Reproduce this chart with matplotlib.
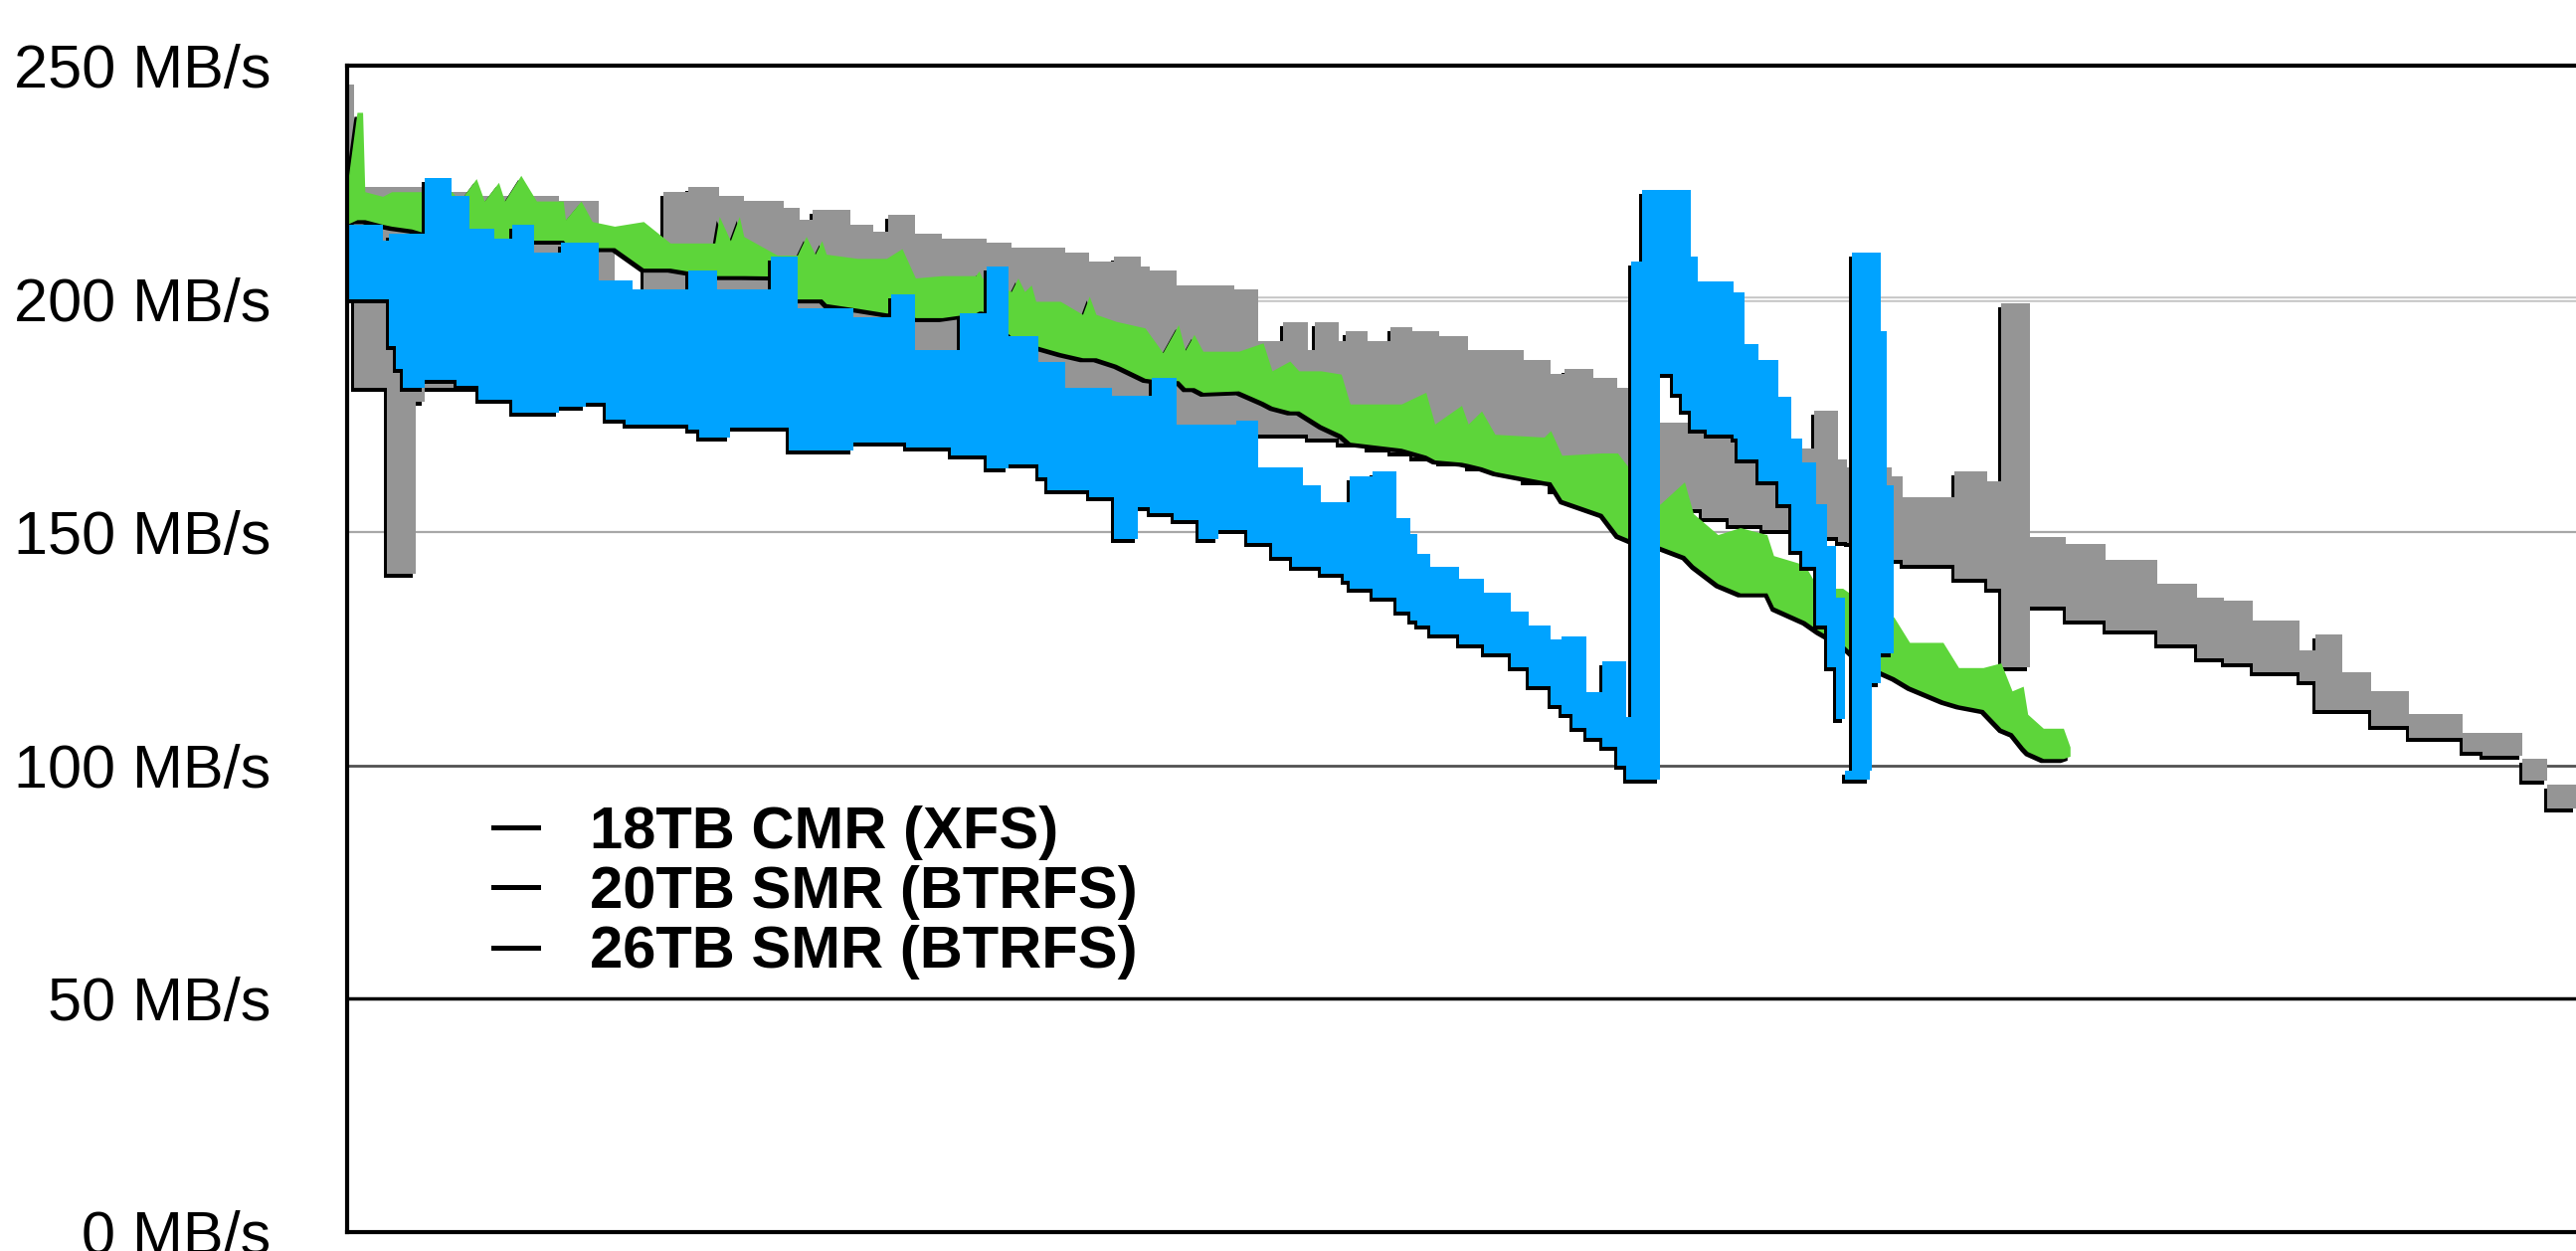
import numpy as np
import matplotlib
matplotlib.use('Agg')
import matplotlib.pyplot as plt
import matplotlib.transforms as mtransforms
from matplotlib.lines import Line2D

# position across the disk (percent) and the min / max throughput band (MB/s)
# 18TB CMR and 26TB SMR are stepped (value holds until the next x)
cmr18_x = [0.0, 0.3, 1.8, 3.1, 3.5, 5.9, 9.5, 11.3, 12.0, 13.3, 14.2, 15.3, 16.7, 17.8,
           19.6, 20.3, 20.9, 22.6, 23.6, 24.3, 25.5, 26.7, 28.7, 29.8, 32.2, 33.3, 34.4,
           35.6, 36.0, 37.2, 39.8, 40.9, 42.0, 43.1, 43.4, 44.5, 44.8, 45.8, 46.8, 47.8,
           49.0, 50.3, 51.5, 52.8, 54.0, 54.6, 55.9, 57.0, 57.8, 58.9, 60.8, 62.0, 63.5,
           65.3, 65.8, 66.9, 67.3, 69.3, 69.8, 72.1, 73.6, 74.2, 75.5, 77.1, 78.9, 81.2,
           83.0, 84.2, 85.5, 87.6, 88.3, 89.5, 90.8, 92.5, 94.9, 95.8, 97.6, 98.7, 100.0]
cmr18_hi = [246, 224, 224, 224, 223, 222, 221, 214, 200, 208, 223, 224, 222, 221,
            219.5, 217, 219, 216, 214.5, 218, 214, 213, 212, 211, 210, 208, 209,
            207, 206, 203, 202, 191, 195, 189, 195, 191, 193, 191, 194, 193,
            192, 189, 189, 187, 184, 185, 183, 181, 178, 173.6, 173, 170, 169,
            168, 176, 165.6, 164, 162, 157.6, 163, 161, 199, 149, 147.5, 144, 139,
            136, 135.4, 131, 124.7, 128, 120, 116, 111, 107, 107, 101.5, 96, 95.7]
cmr18_lo = [200, 181, 141, 178, 181, 184, 186, 190, 190, 190, 190, 188, 186, 185,
            184, 183, 182, 181, 180, 179, 178, 177, 176, 176, 175, 175, 174,
            174, 173, 173, 172, 171, 171, 170, 170, 169, 169, 168, 167, 166,
            165, 164, 163, 161, 159, 158, 157, 156, 155, 155, 153, 151.5, 150.5,
            149.5, 149, 148, 147.8, 144, 143, 140, 138, 121, 134, 131, 129, 126,
            123, 122, 120, 118, 112, 112, 108.5, 106, 103, 102, 96.8, 90.8, 90]

smr26_x = [0.0, 1.6, 1.9, 2.2, 2.5, 3.5, 4.7, 4.9, 5.5, 5.9, 6.6, 7.4, 8.4, 9.5, 9.6,
           10.7, 11.3, 11.6, 12.5, 12.8, 15.3, 15.8, 16.6, 17.2, 19.0, 19.8, 20.2, 22.7,
           24.4, 25.1, 25.5, 27.1, 27.5, 28.7, 29.7, 31.0, 31.4, 32.2, 33.3, 34.3, 34.4,
           35.5, 36.0, 36.1, 37.1, 37.2, 38.2, 39.1, 39.9, 40.4, 40.9, 41.5, 42.4, 42.9,
           43.7, 44.7, 45.0, 46.0, 47.1, 47.7, 48.0, 48.6, 49.9, 51.0, 52.2, 53.0, 54.0,
           54.5, 55.0, 55.6, 56.3, 57.0, 57.4, 57.6, 58.1, 58.9, 59.5, 59.9, 60.3, 60.6,
           61.0, 62.2, 62.4, 62.7, 63.3, 64.2, 64.8, 65.3, 65.9, 66.4, 66.8, 67.2, 67.5,
           68.3, 68.4, 68.8, 69.1, 69.4]
smr26_hi = [216, 212.6, 214, 214, 214, 226, 222, 222, 215, 215, 213, 216, 210, 210, 212,
            212, 204, 204, 204, 202, 206, 206, 202, 202, 209, 209, 198, 196,
            201, 201, 189, 189, 197, 207, 192, 186.4, 186.4, 181, 181, 179.3, 179.3,
            179.3, 179.3, 183, 183, 173, 173, 173, 174, 174, 164, 164, 164, 160,
            156.5, 156.5, 162, 163, 153, 149.7, 145.4, 142.6, 140, 137, 133, 130, 127,
            127.7, 127.7, 115.8, 122.4, 122.4, 110.4, 208, 223.3, 223.3, 223.3, 223.3, 209, 203.8,
            203.8, 201.5, 201.5, 190.4, 187, 179, 170, 165, 156, 147, 136, 99, 210,
            210, 210, 193, 160, 124]
smr26_lo = [200, 200, 190, 185, 181, 182.7, 182.7, 181.4, 181.4, 178.5, 178.5, 175.7, 175.7, 176.8, 176.8,
            177.8, 177.8, 174.2, 173.1, 173.1, 172, 170.4, 170.4, 172.5, 172.5, 167.6, 167.6, 169.3,
            169.3, 168.2, 168.2, 166.5, 166.5, 163.6, 164.6, 161.8, 159, 159, 157.6, 157.6, 148.6,
            155.4, 154, 154, 152.6, 152.6, 148.6, 150.5, 150.5, 147.6, 147.6, 144.8, 142.6, 142.6,
            141, 139.5, 138, 136, 133, 131, 130, 128, 126, 124, 121, 117, 113,
            111, 108, 106, 104, 100, 97, 97, 97, 184, 179.7, 176, 172, 172,
            171, 170, 165.6, 165.6, 161, 156, 146, 142.5, 130, 121, 110, 97, 97,
            99, 117.6, 124, 124, 124]

# 20TB SMR is jagged, drawn point to point
smr20_x = [0.0, 0.45, 0.7, 0.8, 1.6, 2.0, 2.9, 3.6, 4.7, 5.06, 5.8, 6.16, 6.8, 7.07, 7.8,
           8.5, 9.7, 9.8, 10.5, 11.0, 12.0, 13.3, 14.5, 16.5, 16.7, 17.2, 17.6, 17.8, 19.3,
           20.2, 20.6, 21.0, 21.3, 21.5, 22.9, 24.2, 24.9, 25.5, 26.7, 28.2, 28.35, 28.5,
           29.8, 30.1, 30.4, 30.7, 30.9, 32.0, 33.0, 33.3, 33.6, 34.5, 35.8, 36.6, 37.3,
           37.6, 38.0, 38.4, 40.0, 41.1, 41.5, 42.3, 42.7, 43.7, 44.6, 45.0, 47.3, 48.4,
           48.8, 50.0, 50.3, 50.9, 51.5, 53.7, 54.0, 54.5, 56.3, 57.0, 57.8, 58.9, 60.0,
           60.4, 61.5, 62.5, 63.7, 64.0, 65.4, 66.0, 67.1, 68.0, 69.4, 70.1, 71.6, 72.3,
           73.4, 74.2, 74.7, 75.2, 75.4, 76.1, 77.0, 77.3]
smr20_hi = [224, 240, 240, 223, 222, 223, 223, 223, 223, 221, 225.8, 221, 225, 221, 226.5,
            221, 221, 217, 221, 216.6, 215.6, 216.6, 212, 212, 217.7, 212.5, 217.7, 213.4, 209.4,
            209.4, 213.4, 209.6, 212.5, 209.6, 208.7, 208.7, 210.8, 204.5, 205, 205, 206, 204.5,
            201.6, 204.5, 201.6, 203, 199.5, 199.5, 196.7, 200.6, 196.7, 195.2, 193.8, 188.5, 194.5,
            189, 192.4, 188.8, 188.8, 190.6, 184.6, 186.7, 184.6, 184.6, 183.9, 177.5, 177.5, 180,
            173.2, 177.2, 173.2, 176, 171, 170.4, 171.8, 166.5, 167, 167, 162, 156, 160.8,
            154, 149.5, 151, 149.5, 145, 143, 138, 138, 135, 131.8, 126.4, 126.4, 121,
            121, 122, 116, 117, 111, 108, 108, 104]
smr20_lo = [216, 217, 217, 217, 216, 215.6, 215, 214, 214, 213.5, 213.5, 213, 213, 213, 212.6,
            212.6, 212.6, 212, 211.5, 211, 211, 206.6, 206.6, 205, 205, 205, 205, 205, 204.9,
            200, 200, 200, 200, 199, 198, 197, 197, 196, 196, 197, 197.4, 197.4,
            192, 192, 191.7, 191.7, 190, 188.5, 187.4, 187.4, 187.4, 186, 183, 182.5, 182.5,
            181, 181, 180, 180.3, 178, 177, 176, 176, 173, 171, 169.3, 168, 166.5,
            165.5, 165, 164.7, 164, 163, 161, 160.8, 157, 154, 149.6, 148, 147, 145,
            143, 139, 137, 137, 134, 131, 129, 126, 122, 119, 117, 114, 113,
            112, 108, 107, 104, 103, 101.5, 101.5, 102]

labels = ['18TB CMR (XFS)', '20TB SMR (BTRFS)', '26TB SMR (BTRFS)']
colors = ['#959595', '#5dd53a', '#00a3ff']
yticks = [0, 50, 100, 150, 200, 250]
ytick_labels = ['%d MB/s' % v for v in yticks]

plt.rcParams['font.family'] = ['Liberation Sans', 'DejaVu Sans']

fig = plt.figure(figsize=(25.9, 12.58), dpi=100)
ax = fig.add_axes([0.1347, 0.0151, 0.8653, 0.9324])

# horizontal reference lines
ax.axhline(200, color='#c4c4c4', lw=4, zorder=1)
ax.axhline(200, color='white', lw=1.2, zorder=1)
ax.axhline(150, color='#a8a8a8', lw=1.6, zorder=1)
ax.axhline(100, color='#505050', lw=2, zorder=1)
ax.axhline(50, color='black', lw=2.5, zorder=1)

# thin dark drop shadow down and to the left of every band
shadow = mtransforms.offset_copy(ax.transData, fig=fig, x=-3, y=-4, units='dots')

series = [(cmr18_x, cmr18_hi, cmr18_lo, 'post'),
          (smr20_x, smr20_hi, smr20_lo, None),
          (smr26_x, smr26_hi, smr26_lo, 'post')]
for i, (x, hi, lo, step) in enumerate(series):
    ax.fill_between(x, lo, hi, step=step, color='black', lw=0, transform=shadow,
                    zorder=2 + 2 * i)
    ax.fill_between(x, lo, hi, step=step, color=colors[i], lw=0, zorder=3 + 2 * i)

ax.set_xlim(0, 100)
ax.set_ylim(0, 250)
ax.set_xticks([])
ax.set_yticks(yticks)
ax.set_yticklabels(ytick_labels, fontsize=44)
ax.tick_params(axis='y', length=0, pad=55)

ax.spines['right'].set_visible(False)
for s in ['left', 'top', 'bottom']:
    ax.spines[s].set_linewidth(3)
    ax.spines[s].set_zorder(10)

handles = [Line2D([], [], color='black', lw=3.6) for _ in labels]
ax.legend(handles, labels, loc='upper left', bbox_to_anchor=(0.0656, 0.366),
          frameon=False, borderpad=0, borderaxespad=0, handlelength=0.75,
          handletextpad=0.88, labelspacing=0.09,
          prop={'family': 'Liberation Sans', 'weight': 'bold', 'size': 43})

fig.savefig('out.png', dpi=100)
